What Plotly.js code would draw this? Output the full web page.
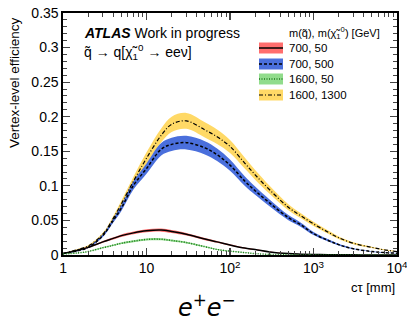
<!DOCTYPE html>
<html>
<head>
<meta charset="utf-8">
<script src="https://cdn.plot.ly/plotly-3.0.1.min.js"></script>
<style>html,body{margin:0;padding:0;background:#fff;}#chart{width:407px;height:324px;}</style>
</head>
<body>
<div id="chart"></div>
<script>
// c tau values [mm]
var ctau = [1, 1.5, 2, 3, 4, 5, 7, 10, 15, 20, 30, 50, 70, 100, 150, 200, 300, 500, 700, 1000, 1500, 2000, 3000, 5000, 7000, 10000];

// 700, 50
var eff700_50 = [0.002, 0.007, 0.011, 0.019, 0.024, 0.028, 0.032, 0.035, 0.036, 0.034, 0.030, 0.023, 0.019, 0.0145, 0.010, 0.008, 0.0045, 0.002, 0.0012, 0.0007, 0.0004, 0.0003, 0.0002, 0.0001, 0.0001, 0.0001];
var err700_50 = [0.0003, 0.0006, 0.0009, 0.0013, 0.0016, 0.0018, 0.002, 0.0022, 0.0022, 0.0021, 0.0019, 0.0016, 0.0014, 0.0011, 0.0009, 0.0007, 0.0005, 0.0003, 0.0002, 0.0001, 0.0001, 0.0001, 0.0001, 0.0001, 0.0001, 0.0001];

// 700, 500
var eff700_500 = [0.002, 0.006, 0.011, 0.028, 0.050, 0.068, 0.101, 0.125, 0.153, 0.160, 0.1625, 0.155, 0.145, 0.130, 0.107, 0.093, 0.075, 0.054, 0.044, 0.031, 0.021, 0.015, 0.009, 0.005, 0.0035, 0.0025];
var err700_500 = [0.0003, 0.0006, 0.001, 0.002, 0.003, 0.0042, 0.006, 0.0075, 0.009, 0.0095, 0.0098, 0.0095, 0.009, 0.008, 0.0068, 0.006, 0.005, 0.0037, 0.003, 0.0022, 0.0016, 0.0012, 0.0008, 0.0005, 0.0004, 0.0003];

// 1600, 50
var eff1600_50 = [0.0015, 0.003, 0.005, 0.0105, 0.014, 0.017, 0.020, 0.0225, 0.0228, 0.021, 0.018, 0.012, 0.008, 0.0055, 0.0035, 0.002, 0.001, 0.0005, 0.0003, 0.0002, 0.0001, 0.0001, 0.0001, 0.0001, 0.0001, 0.0001];
var err1600_50 = [0.0002, 0.0004, 0.0006, 0.0009, 0.0011, 0.0012, 0.0014, 0.0015, 0.0015, 0.0014, 0.0012, 0.0009, 0.0007, 0.0005, 0.0004, 0.0003, 0.0002, 0.0001, 0.0001, 0.0001, 0.0001, 0.0001, 0.0001, 0.0001, 0.0001, 0.0001];

// 1600, 1300
var eff1600_1300 = [0.002, 0.008, 0.013, 0.030, 0.053, 0.074, 0.107, 0.140, 0.173, 0.189, 0.194, 0.181, 0.171, 0.157, 0.133, 0.116, 0.094, 0.069, 0.057, 0.045, 0.033, 0.025, 0.017, 0.011, 0.0075, 0.005];
var err1600_1300 = [0.0003, 0.0007, 0.001, 0.002, 0.0033, 0.0045, 0.0065, 0.0085, 0.010, 0.011, 0.0115, 0.011, 0.0105, 0.0095, 0.008, 0.007, 0.0058, 0.0043, 0.0036, 0.003, 0.0023, 0.0018, 0.0013, 0.0009, 0.0007, 0.0005];

var seriesNames = ['700, 50', '700, 500', '1600, 50', '1600, 1300'];
var xTickVals = [1, 10, 100, 1000, 10000];
var xTickText = ['1', '10', '10<sup>2</sup>', '10<sup>3</sup>', '10<sup>4</sup>'];

var series = [
  {name: seriesNames[3], y: eff1600_1300, e: err1600_1300, fill: 'rgb(255,217,102)', line: {color: 'black', width: 1.2, dash: '4px,2px,1px,2px'}},
  {name: seriesNames[1], y: eff700_500, e: err700_500, fill: 'rgb(74,111,220)', line: {color: 'black', width: 1.5, dash: '3px,2px'}},
  {name: seriesNames[0], y: eff700_50, e: err700_50, fill: 'rgb(255,110,110)', line: {color: 'black', width: 1.5, dash: 'solid'}},
  {name: seriesNames[2], y: eff1600_50, e: err1600_50, fill: 'rgb(145,220,140)', line: {color: 'rgb(30,120,30)', width: 1.5, dash: '1px,1.5px'}}
];

var traces = [];
series.forEach(function(s){
  var lo = s.y.map(function(v,i){return v - s.e[i];});
  var hi = s.y.map(function(v,i){return v + s.e[i];});
  traces.push({x: ctau, y: lo, mode: 'lines', line: {width: 0, shape: 'spline'}, showlegend: false, hoverinfo: 'skip'});
  traces.push({x: ctau, y: hi, mode: 'lines', fill: 'tonexty', fillcolor: s.fill, line: {width: 0, shape: 'spline'}, showlegend: false, hoverinfo: 'skip'});
});
series.forEach(function(s){
  traces.push({x: ctau, y: s.y, mode: 'lines', name: s.name, line: {color: s.line.color, width: s.line.width, dash: s.line.dash, shape: 'spline'}, showlegend: false});
});

// pixel helpers for placement in paper coordinates
var L = 63, R = 397, T = 13, B = 255;
function px(x){return (x - L) / (R - L);}
function py(y){return (B - y) / (B - T);}

var font = 'Liberation Sans, Arial, Helvetica, sans-serif';
var annotations = [
  {xref: 'paper', yref: 'paper', x: px(82), y: py(33), xanchor: 'left', yanchor: 'middle', showarrow: false,
   text: '<b><i>ATLAS</i></b> Work in progress', font: {family: font, size: 14, color: 'black'}},
  {xref: 'paper', yref: 'paper', x: px(82), y: py(52), xanchor: 'left', yanchor: 'middle', showarrow: false,
   text: 'q̃ → q[χ̃<sub>1</sub><sup>0</sup> → eeν]', font: {family: font, size: 14, color: 'black'}},
  {xref: 'paper', yref: 'paper', x: px(287), y: py(33), xanchor: 'left', yanchor: 'middle', showarrow: false,
   text: 'm(q̃), m(χ̃<sub>1</sub><sup>0</sup>) [GeV]', font: {family: font, size: 11, color: 'black'}},
  {xref: 'paper', yref: 'paper', x: px(397), y: py(288), xanchor: 'right', yanchor: 'middle', showarrow: false,
   text: 'cτ [mm]', font: {family: font, size: 13, color: 'black'}},
  {xref: 'paper', yref: 'paper', x: px(14), y: py(83), xanchor: 'center', yanchor: 'middle', showarrow: false, textangle: -90,
   text: 'Vertex-level efficiency', font: {family: font, size: 13.5, color: 'black'}},
  {xref: 'paper', yref: 'paper', x: px(207), y: py(306), xanchor: 'center', yanchor: 'middle', showarrow: false,
   text: '<i>e</i><sup>+</sup><i>e</i><sup>−</sup>', font: {family: 'DejaVu Sans, sans-serif', size: 24, color: 'black'}}
];

var shapes = [];
var legOrder = [2, 1, 3, 0]; // series index in legend order
var legY = [48, 64, 79, 95];
legOrder.forEach(function(si, k){
  var s = series[si];
  shapes.push({type: 'rect', xref: 'paper', yref: 'paper', x0: px(259), x1: px(283), y0: py(legY[k] + 5.5), y1: py(legY[k] - 5.5),
               fillcolor: s.fill, line: {width: 0}, layer: 'above'});
  shapes.push({type: 'line', xref: 'paper', yref: 'paper', x0: px(259), x1: px(283), y0: py(legY[k]), y1: py(legY[k]),
               line: {color: s.line.color, width: s.line.width, dash: s.line.dash}, layer: 'above'});
  annotations.push({xref: 'paper', yref: 'paper', x: px(287), y: py(legY[k]), xanchor: 'left', yanchor: 'middle', showarrow: false,
                    text: s.name, font: {family: font, size: 11.5, color: 'black'}});
});

var layout = {
  width: 407, height: 324,
  margin: {l: L, r: 407 - R, t: T, b: 324 - B},
  paper_bgcolor: 'white', plot_bgcolor: 'white',
  showlegend: false,
  font: {family: font, size: 14, color: 'black'},
  xaxis: {type: 'log', range: [-0.0002, 4.0002], tickvals: xTickVals, ticktext: xTickText, ticks: 'inside', ticklen: 7, tickwidth: 1.2,
          showline: true, linewidth: 1.6, linecolor: 'black', mirror: 'allticks', showgrid: false, zeroline: false,
          ticklabeloverflow: 'allow', automargin: false,
          tickfont: {family: font, size: 14, color: 'black'},
          minor: {ticks: 'inside', ticklen: 4, tickwidth: 1, tickvals: [2,3,4,5,6,7,8,9,20,30,40,50,60,70,80,90,200,300,400,500,600,700,800,900,2000,3000,4000,5000,6000,7000,8000,9000], showgrid: false}},
  yaxis: {range: [0, 0.35], dtick: 0.05, tick0: 0, ticks: 'inside', ticklen: 7, tickwidth: 1.2,
          showline: true, linewidth: 1.6, linecolor: 'black', mirror: 'allticks', showgrid: false, zeroline: false,
          tickfont: {family: font, size: 14, color: 'black'},
          minor: {ticks: 'inside', ticklen: 4, tickwidth: 1, dtick: 0.01, showgrid: false}},
  annotations: annotations,
  shapes: shapes
};

Plotly.newPlot('chart', traces, layout, {staticPlot: true, displayModeBar: false});
</script>
</body>
</html>
